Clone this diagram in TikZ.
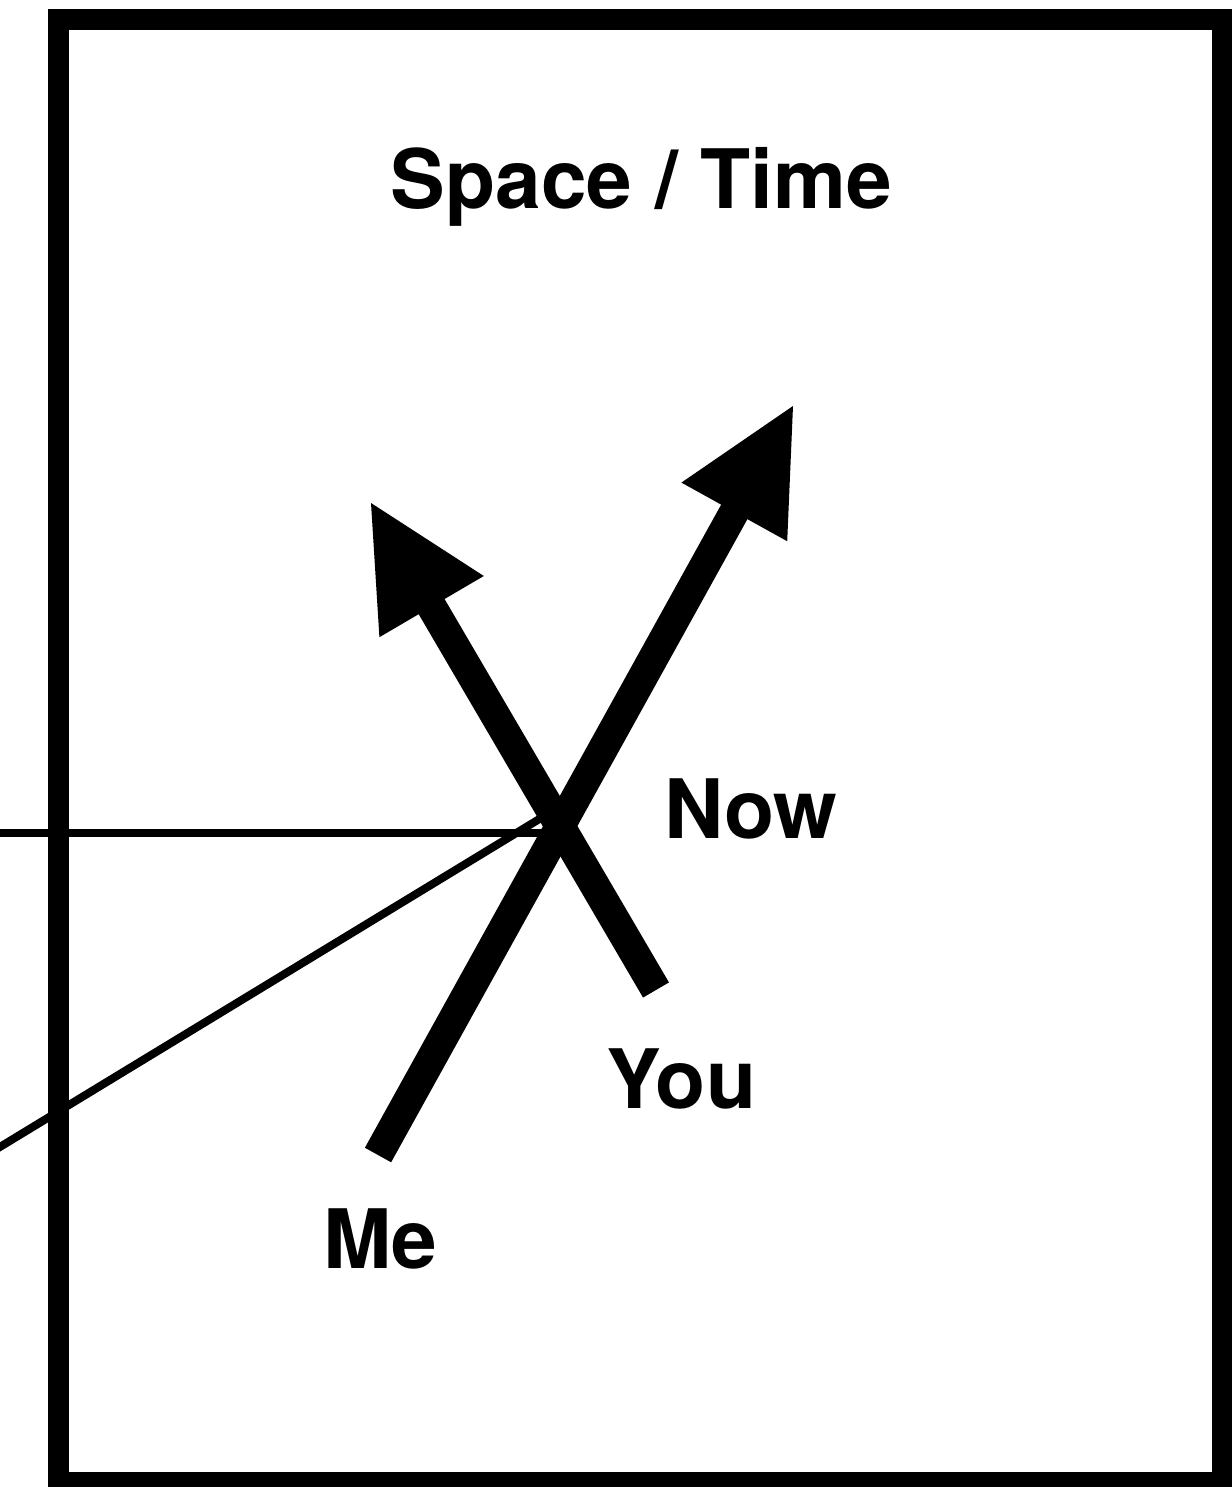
\documentclass[tikz,border=0pt]{standalone}
\usepackage{fontspec}
\setmainfont{TeX Gyre Heros}
\begin{document}
\begin{tikzpicture}[x=0.5pt,y=-0.5pt,
  frame/.style={line width=10.5pt},
  thin/.style={line width=4pt},
  shaft/.style={line width=15pt, line cap=butt},
  head/.style={fill=black},
  label/.style={inner sep=0pt, anchor=base, font=\bfseries\fontsize{41}{49}\selectfont}]
\useasboundingbox (0,0) rectangle (1231,1487);
\draw[frame] (58.5,19.5) rectangle (1222.5,1482.5);
% coordinates
\coordinate (hL) at (-10,832.5);
\coordinate (hR) at (542,832.5);
\coordinate (dL) at (-10,1153);
\coordinate (dR) at (541,818);
\coordinate (meTail) at (378,1155);
\coordinate (meBase) at (736.7,507.5);
\coordinate (meTip) at (793,406);
\coordinate (meA) at (681.4,482.6);
\coordinate (meB) at (787.2,541.2);
\coordinate (youTail) at (656,990);
\coordinate (youBase) at (429.1,602.3);
\coordinate (youTip) at (371,503);
\coordinate (youA) at (483.8,576);
\coordinate (youB) at (379.4,637.2);
% thin lines
\draw[thin] (hL) -- (hR);
\draw[thin] (dL) -- (dR);
% arrows
\draw[shaft] (youTail) -- (youBase);
\fill[head] (youTip) -- (youA) -- (youB) -- cycle;
\draw[shaft] (meTail) -- (meBase);
\fill[head] (meTip) -- (meA) -- (meB) -- cycle;
% labels
\node[label] (title) at (641.5,209) {Space / Time};
\node[label] (now) at (751,838) {Now};
\node[label] (you) at (681.5,1108) {You};
\node[label] (me) at (380.5,1268) {Me};
\end{tikzpicture}
\end{document}
